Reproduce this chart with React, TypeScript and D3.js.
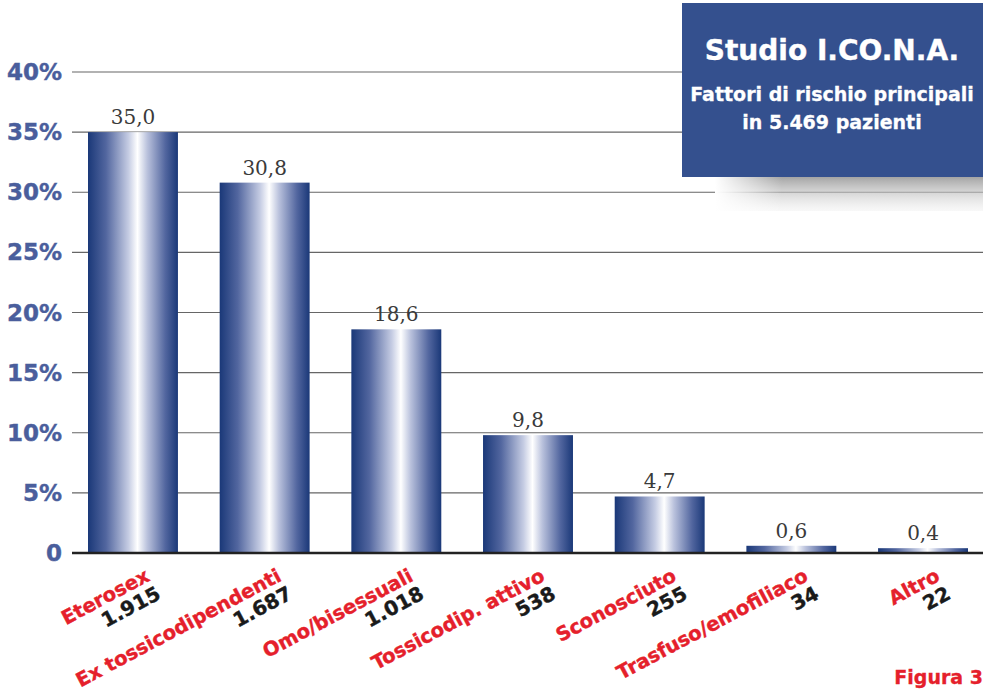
import React from "react";
import * as d3 from "d3";

const categories = ["Eterosex", "Ex tossicodipendenti", "Omo/bisessuali", "Tossicodip. attivo", "Sconosciuto", "Trasfuso/emofiliaco", "Altro"];
const percentages = [35.0, 30.8, 18.6, 9.8, 4.7, 0.6, 0.4];
const counts = ["1.915", "1.687", "1.018", "538", "255", "34", "22"];
const yTicks = [0, 5, 10, 15, 20, 25, 30, 35, 40];

const W = 983, H = 693;
const x0 = 88, x1 = 968;
const yZero = 553, yTop = 72;

export default function App() {
  const x = d3.scaleBand<string>().domain(categories).range([x0, x1]).paddingInner(0.317).paddingOuter(0);
  const y = d3.scaleLinear().domain([0, 40]).range([yZero, yTop]);
  const fmt = (v: number) => v.toFixed(1).replace(".", ",");
  const sans = "'DejaVu Sans', 'Liberation Sans', Arial, sans-serif";
  const serif = "'DejaVu Serif', 'Liberation Serif', serif";
  return (
    <svg width={W} height={H} style={{ position: "absolute", left: 0, top: 0, background: "#fff" }}>
      <defs>
        <linearGradient id="barGrad" x1="0" x2="1" y1="0" y2="0">
          <stop offset="0" stopColor="#1a3878" />
          <stop offset="0.2" stopColor="#52669f" />
          <stop offset="0.45" stopColor="#c5cce3" />
          <stop offset="0.55" stopColor="#ffffff" />
          <stop offset="0.66" stopColor="#b9c1dc" />
          <stop offset="0.86" stopColor="#52669f" />
          <stop offset="1" stopColor="#1a3878" />
        </linearGradient>
        <linearGradient id="shadowGrad" x1="0" x2="0" y1="0" y2="1">
          <stop offset="0" stopColor="#9a9a9a" stopOpacity="0.9" />
          <stop offset="1" stopColor="#e8e8e8" stopOpacity="0.3" />
        </linearGradient>
        <linearGradient id="shadowGradH" x1="0" x2="1" y1="0" y2="0">
          <stop offset="0" stopColor="#fff" stopOpacity="1" />
          <stop offset="0.25" stopColor="#fff" stopOpacity="0" />
        </linearGradient>
      </defs>
      {yTicks.filter(t => t > 0).map(t => (
        <line key={t} x1={72} x2={W} y1={y(t)} y2={y(t)} stroke="#666" strokeWidth={1.2} />
      ))}
      {yTicks.map(t => (
        <text key={"l" + t} x={62} y={y(t) + 8} textAnchor="end" fontFamily={sans} fontWeight="bold"
          fontSize={23} fill="#4a5e9c" stroke="#4a5e9c" strokeWidth={0.4}>
          {t === 0 ? "0" : `${t}%`}
        </text>
      ))}
      {categories.map((c, i) => (
        <rect key={c} x={x(c)} y={y(percentages[i])} width={x.bandwidth()} height={yZero - y(percentages[i])} fill="url(#barGrad)" />
      ))}
      <line x1={72} x2={W} y1={yZero} y2={yZero} stroke="#222" strokeWidth={2.5} />
      {categories.map((c, i) => (
        <text key={"v" + c} x={(x(c) as number) + x.bandwidth() / 2} y={y(percentages[i]) - 8} textAnchor="middle"
          fontFamily={serif} fontSize={20} fill="#3a3a3a">
          {fmt(percentages[i])}
        </text>
      ))}
      {categories.map((c, i) => {
        const cx = (x(c) as number) + x.bandwidth() / 2;
        return (
          <g key={"c" + c}>
            <text transform={`translate(${cx + 18},${580}) rotate(-28)`} textAnchor="end" fontFamily={sans}
              fontWeight="bold" fontSize={19.5} fill="#e5202b" stroke="#e5202b" strokeWidth={0.4}>{c}</text>
            <text transform={`translate(${cx + 29},${598}) rotate(-28)`} textAnchor="end" fontFamily={sans}
              fontWeight="bold" fontSize={20} fill="#1a1a1a" stroke="#1a1a1a" strokeWidth={0.4}>{counts[i]}</text>
          </g>
        );
      })}
      <rect x={715} y={177} width={W - 715} height={34} fill="url(#shadowGrad)" />
      <rect x={715} y={177} width={W - 715} height={34} fill="url(#shadowGradH)" />
      <rect x={682} y={3} width={W - 682} height={174} fill="#34508e" />
      <text x={832} y={60} textAnchor="middle" fontFamily={sans} fontWeight="bold" fontSize={28} fill="#fff" stroke="#fff" strokeWidth={0.4}>Studio I.CO.N.A.</text>
      <text x={832} y={101} textAnchor="middle" fontFamily={sans} fontWeight="bold" fontSize={19} fill="#fff" stroke="#fff" strokeWidth={0.3}>Fattori di rischio principali</text>
      <text x={832} y={129} textAnchor="middle" fontFamily={sans} fontWeight="bold" fontSize={19} fill="#fff" stroke="#fff" strokeWidth={0.3}>in 5.469 pazienti</text>
      <text x={983} y={684} textAnchor="end" fontFamily={sans} fontWeight="bold" fontSize={19} fill="#e5202b" stroke="#e5202b" strokeWidth={0.3}>Figura 3</text>
    </svg>
  );
}
